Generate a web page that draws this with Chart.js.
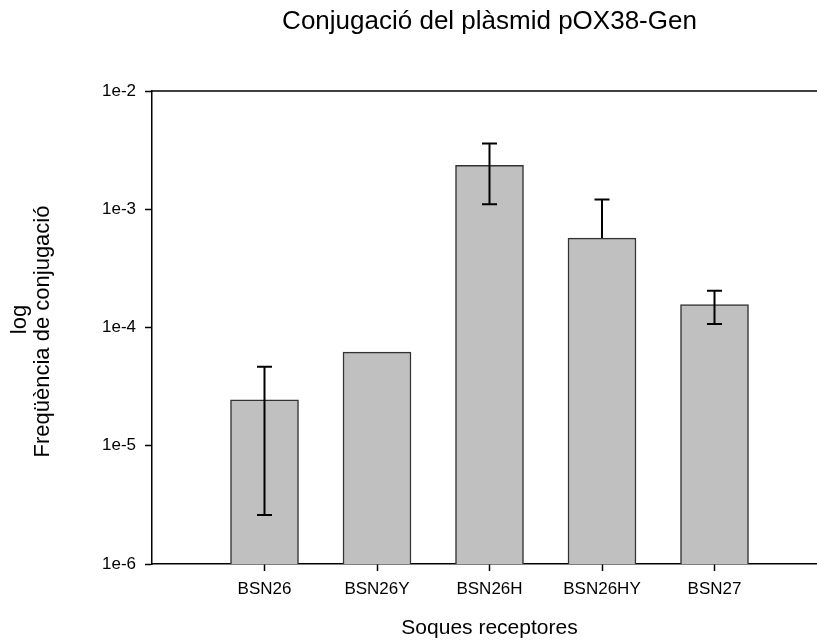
<!DOCTYPE html>
<html>
<head>
<meta charset="utf-8">
<script src="https://cdn.jsdelivr.net/npm/chart.js@4.4.0/dist/chart.umd.min.js"></script>
<style>
  html, body { margin: 0; padding: 0; background: #fff; overflow: hidden; }
  #wrap { width: 827px; height: 644px; }
</style>
</head>
<body>
<div id="wrap"><canvas id="conjChart" width="827" height="644"></canvas></div>
<script>
// Data
const strains = ["BSN26", "BSN26Y", "BSN26H", "BSN26HY", "BSN27"];
const frequency = [2.45e-5, 6.2e-5, 2.35e-3, 5.7e-4, 1.56e-4];
const errorHigh = [4.65e-5, null, 3.6e-3, 1.21e-3, 2.05e-4];
const errorLow = [2.6e-6, null, 1.1e-3, null, 1.07e-4];
const yTicks = [1e-6, 1e-5, 1e-4, 1e-3, 1e-2];

const FONT = "Arial, 'Liberation Sans', sans-serif";

// error bars, top frame line and text titles
const extras = {
  id: "extras",
  afterDatasetsDraw(chart) {
    const { ctx, chartArea, scales: { x, y } } = chart;
    ctx.save();
    ctx.strokeStyle = "#000";
    ctx.lineWidth = 2;
    strains.forEach((s, i) => {
      if (errorHigh[i] == null) return;
      const px = x.getPixelForValue(i + 1);
      const top = y.getPixelForValue(errorHigh[i]);
      const low = y.getPixelForValue(errorLow[i] != null ? errorLow[i] : frequency[i]);
      ctx.beginPath();
      ctx.moveTo(px, low);
      ctx.lineTo(px, top);
      ctx.moveTo(px - 7.5, top);
      ctx.lineTo(px + 7.5, top);
      if (errorLow[i] != null) {
        ctx.moveTo(px - 7.5, low);
        ctx.lineTo(px + 7.5, low);
      }
      ctx.stroke();
    });

    // top frame line
    ctx.lineWidth = 1.5;
    ctx.beginPath();
    ctx.moveTo(chartArea.left, chartArea.top);
    ctx.lineTo(chartArea.right, chartArea.top);
    ctx.stroke();

    // titles
    ctx.fillStyle = "#000";
    ctx.textAlign = "center";
    ctx.textBaseline = "alphabetic";
    const mid = (chartArea.left + chartArea.right) / 2;
    ctx.font = "26px " + FONT;
    ctx.fillText("Conjugació del plàsmid pOX38-Gen", mid, 29);
    ctx.font = "21px " + FONT;
    ctx.fillText("Soques receptores", mid, 634);

    ctx.font = "22px " + FONT;
    ctx.textBaseline = "middle";
    ctx.translate(0, (chartArea.top + chartArea.bottom) / 2);
    ctx.rotate(-Math.PI / 2);
    ctx.fillText("log", 8, 20);
    ctx.fillText("Freqüència de conjugació", -4, 43);
    ctx.restore();
  }
};

new Chart(document.getElementById("conjChart"), {
  type: "bar",
  data: {
    datasets: [{
      data: strains.map((s, i) => ({ x: i + 1, y: frequency[i] })),
      backgroundColor: "#c0c0c0",
      borderColor: "#333",
      borderWidth: 1.5,
      barThickness: 68
    }]
  },
  options: {
    responsive: false,
    animation: false,
    layout: { padding: { top: 91, right: 0, left: 0, bottom: 0 } },
    plugins: {
      legend: { display: false },
      tooltip: { enabled: false }
    },
    scales: {
      x: {
        type: "linear",
        offset: false,
        min: 0,
        max: 6,
        afterBuildTicks: (scale) => { scale.ticks = strains.map((s, i) => ({ value: i + 1 })); },
        afterFit: (scale) => { scale.height = 80; },
        grid: { offset: false, drawOnChartArea: false, drawTicks: true, tickLength: 7, tickColor: "#000", tickWidth: 1.5 },
        border: { color: "#000", width: 1.5 },
        ticks: {
          autoSkip: false,
          maxRotation: 0,
          padding: 8,
          color: "#000",
          font: { family: FONT, size: 17 },
          callback: (v) => strains[v - 1] || ""
        }
      },
      y: {
        type: "logarithmic",
        min: 1e-6,
        max: 1e-2,
        afterBuildTicks: (scale) => { scale.ticks = yTicks.map((v) => ({ value: v })); },
        afterFit: (scale) => { scale.width = 152; },
        grid: { drawOnChartArea: false, drawTicks: true, tickLength: 7, tickColor: "#000", tickWidth: 1.5 },
        border: { color: "#000", width: 1.5 },
        ticks: {
          padding: 9,
          color: "#000",
          font: { family: FONT, size: 17 },
          callback: (v) => "1e" + Math.round(Math.log10(v))
        }
      }
    }
  },
  plugins: [extras]
});
</script>
</body>
</html>
